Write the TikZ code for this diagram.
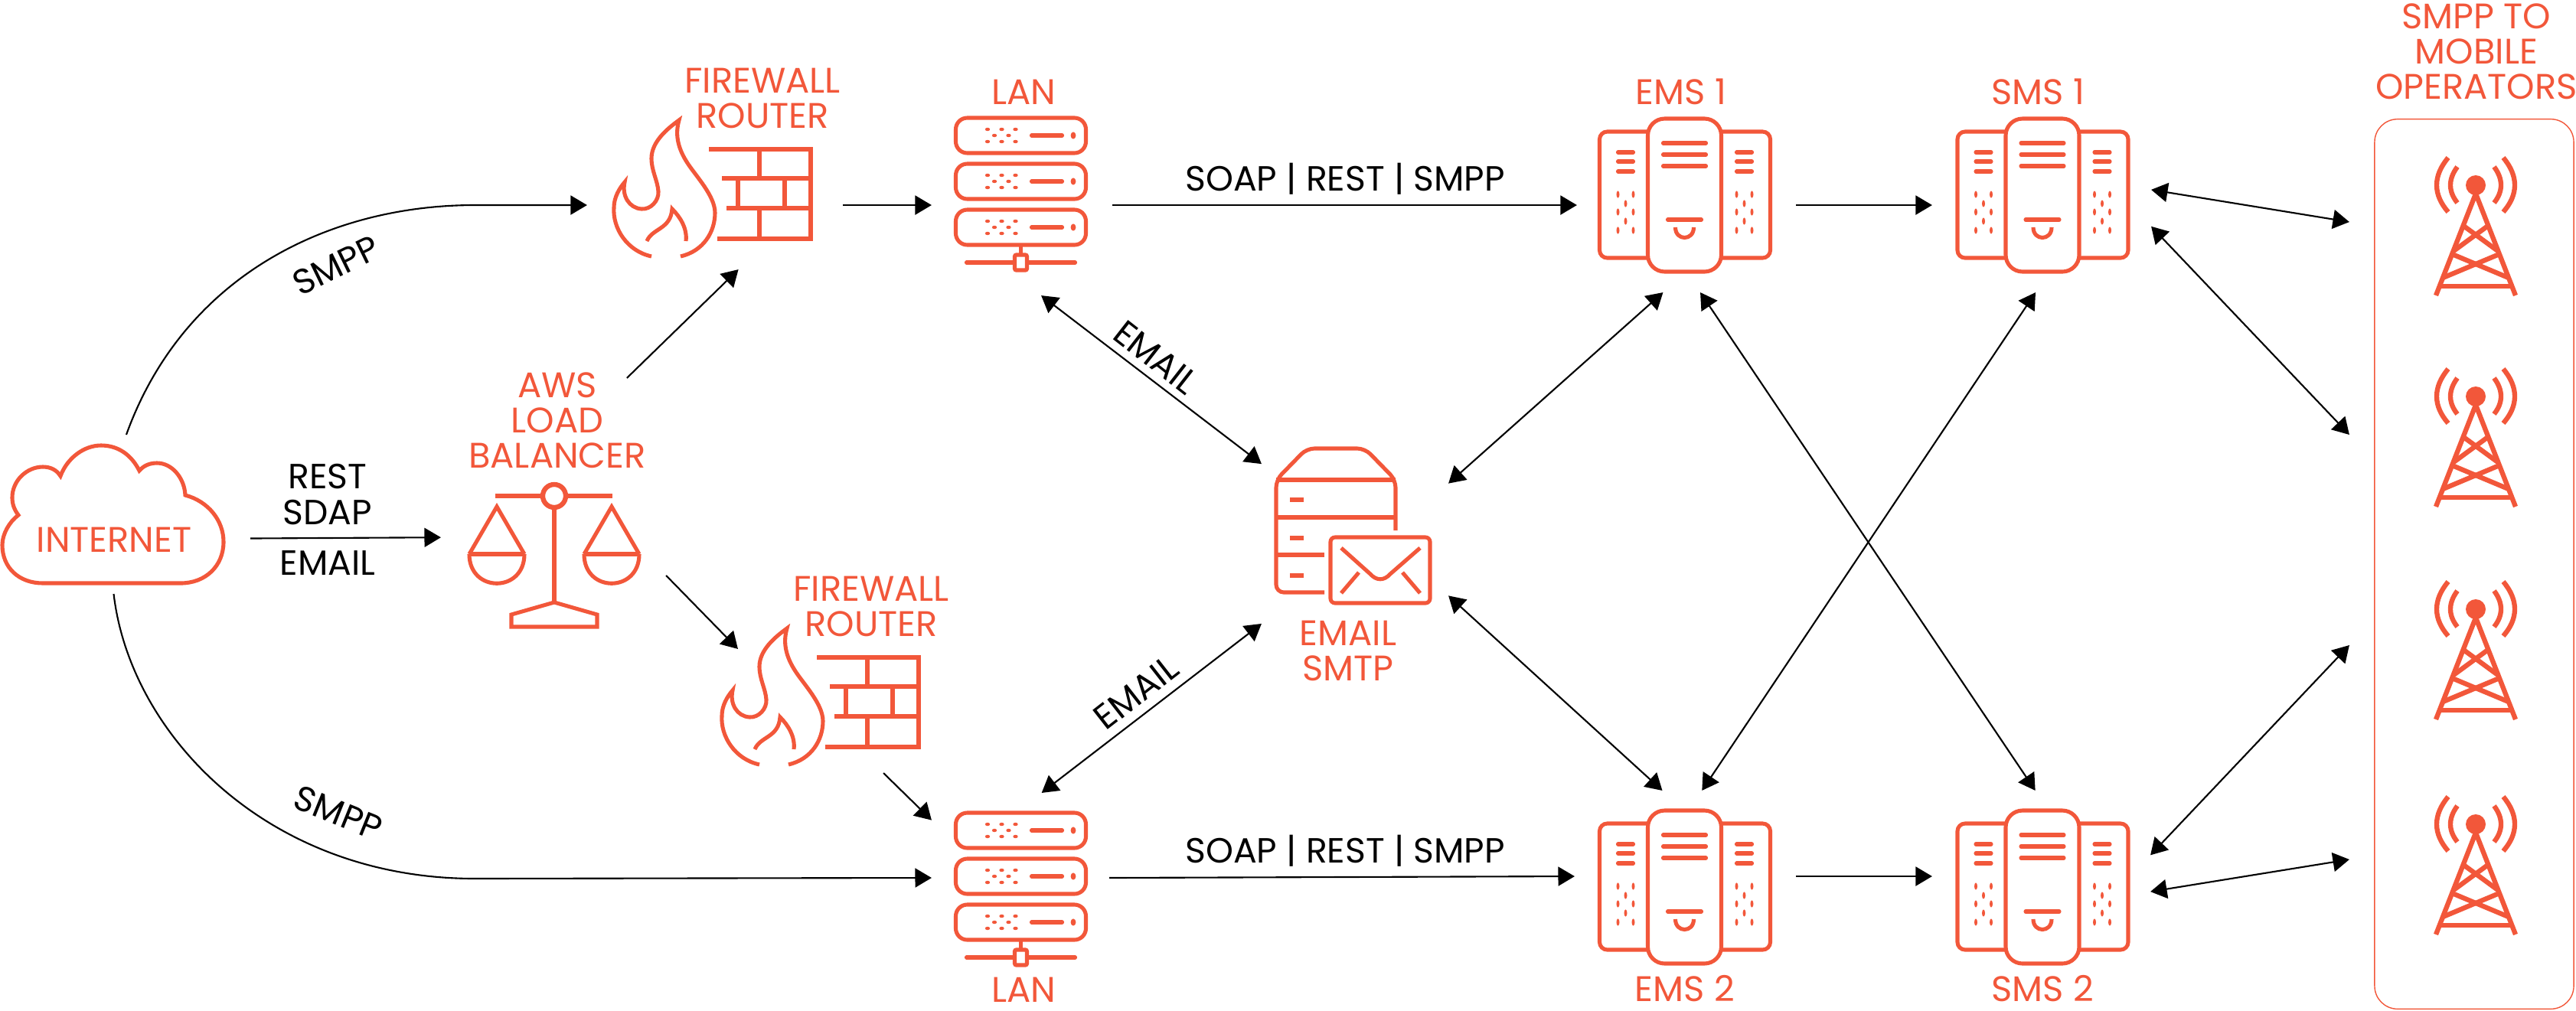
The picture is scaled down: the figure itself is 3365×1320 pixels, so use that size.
\documentclass[tikz,border=0pt]{standalone}
\usepackage{fontspec}
\setmainfont{Poppins}
\usetikzlibrary{arrows.meta}
\definecolor{brandorange}{HTML}{F2573A}
\tikzset{
  >={Triangle[length=6.1pt,width=7.1pt]},
  wire/.style={line width=0.6pt},
  iconline/.style={draw=brandorange, line width=1.45pt},
  iconheavy/.style={draw=brandorange, line width=1.8pt},
  hub/.style={rectangle, inner sep=0pt, outer sep=0pt},
  orangetext/.style={text=brandorange, align=center, inner sep=0pt, font=\fontsize{13.2}{13.1}\selectfont},
  blacktext/.style={text=black, align=center, inner sep=0pt, font=\fontsize{13.0}{13.1}\selectfont},
  lanrack/.pic={
    \foreach \rowy in {-60,0,60} {
      \begin{scope}[shift={(0,\rowy)}]
        \draw[iconline, rounded corners=0.15cm] (-85,-23) rectangle (85,23);
        \foreach \dotx in {-43.5,-25,-7} {
          \fill[brandorange] (\dotx,-8) ellipse [x radius=3.2, y radius=2.2];
          \fill[brandorange] (\dotx,8) ellipse [x radius=3.2, y radius=2.2];
        }
        \foreach \dotx in {-34.5,-16}
          \fill[brandorange] (\dotx,0) ellipse [x radius=3.2, y radius=2.2];
        \draw[iconline, line cap=round] (14,0) -- (54,0);
        \fill[brandorange] (68.5,0) ellipse [x radius=3.4, y radius=4.6];
      \end{scope}
    }
    \draw[iconline] (0,83) -- (0,96);
    \draw[iconline, line cap=round] (-71,106) -- (71,106);
    \draw[iconline, fill=white, rounded corners=0.02cm] (-8,96) rectangle (8,116);
  },
  serverblade/.pic={
    % side panels
    \draw[iconline, rounded corners=0.1cm] (-48,-83) -- (-111,-83) -- (-111,82) -- (-48,82);
    \draw[iconline, rounded corners=0.1cm] (48,-83) -- (112,-83) -- (112,82) -- (48,82);
    \draw[iconline, rounded corners=0.22cm] (-48,-100) rectangle (48,100);
    % front of the middle panel
    \foreach \liney in {-68,-53,-38}
      \draw[iconline, line cap=round] (-28,\liney) -- (28,\liney);
    \draw[iconline, line cap=round] (-22,32) -- (22,32);
    \draw[iconline] (-12,42) .. controls (-12,60) and (12,60) .. (12,42);
    \foreach \sidex in {-77,78} {
      \foreach \liney in {-56,-44,-31}
        \draw[iconline, line cap=round] ({\sidex-10},\liney) -- ({\sidex+10},\liney);
      \foreach \doty in {-1,22,46} {
        \fill[brandorange] ({\sidex-10},\doty) ellipse [x radius=2, y radius=4.6];
        \fill[brandorange] ({\sidex+10},\doty) ellipse [x radius=2, y radius=4.6];
      }
      \foreach \doty in {11,34}
        \fill[brandorange] (\sidex,\doty) ellipse [x radius=2, y radius=4.6];
    }
  },
  radiotower/.pic={
    \fill[brandorange] (0,0) circle [radius=13];
    \draw[iconheavy] (-52,144) -- (0,11) -- (52,144);
    \draw[iconheavy] (-47,132) -- (47,132);
    \draw[iconheavy] (-16,53) -- (29,86);
    \draw[iconheavy] (16,53) -- (-29,86);
    \draw[iconheavy] (-31,90) -- (43,121);
    \draw[iconheavy] (31,90) -- (-43,121);
    \foreach \dir in {-1,1} {
      \draw[iconheavy] ({\dir*24},-24) .. controls ({\dir*36},-8) and ({\dir*36},8) .. ({\dir*24},23);
      \draw[iconheavy] ({\dir*36},-36) .. controls ({\dir*56},-12) and ({\dir*56},12) .. ({\dir*36},35);
    }
  },
  firewall/.pic={
    % flame
    \draw[iconline] (-83,67) .. controls (-115,60) and (-134,30) .. (-132,3)
      .. controls (-132,-10) and (-125,-22) .. (-118,-30)
      .. controls (-122,-12) and (-112,4) .. (-96,5)
      .. controls (-84,6) and (-73,-6) .. (-74,-18)
      .. controls (-75,-32) and (-83,-45) .. (-83,-61)
      .. controls (-83,-83) and (-62,-100) .. (-47,-111)
      .. controls (-53,-90) and (-47,-72) .. (-36,-55)
      .. controls (-25,-38) and (0,-12) .. (0,10)
      .. controls (0,35) and (-15,60) .. (-45,67);
    \draw[iconline] (-89,47) .. controls (-82,30) and (-58,32) .. (-56,5)
      .. controls (-46,15) and (-36,30) .. (-38,47);
    % bricks
    \draw[iconline] (-8,-73) -- (125,-73) -- (125,44) -- (3,44);
    \draw[iconline] (9,-35) -- (125,-35);
    \draw[iconline] (15,4) -- (125,4);
    \draw[iconline] (58,-73) -- (58,-35);
    \draw[iconline] (58,4) -- (58,44);
    \draw[iconline] (30,-35) -- (30,4);
    \draw[iconline] (91,-35) -- (91,4);
  },
  scales/.pic={
    \draw[iconheavy] (-77,0) -- (-15,0);
    \draw[iconheavy] (15,0) -- (76,0);
    \draw[iconheavy] (0,0) circle [radius=15];
    \draw[iconline] (0,17) -- (0,139);
    \draw[iconline] (0,139) -- (56,155) -- (56,171) -- (-56,171) -- (-56,155) -- cycle;
    \foreach \panx in {-75,75} {
      \draw[iconline] ({\panx-36},76) -- (\panx,14) -- ({\panx+36},76);
      \draw[iconline] ({\panx-36},76) -- ({\panx+36},76);
      \draw[iconline] ({\panx-36},76) .. controls ({\panx-36},127) and ({\panx+36},127) .. ({\panx+36},76);
    }
  }
}
\begin{document}
\begin{tikzpicture}[x=0.01cm, y=-0.01cm]
  \useasboundingbox (0,0) rectangle (3365,1320);

  % Hubs
  \node[hub, minimum width=3.24cm, minimum height=2.08cm] (inet) at (165,672) {};
  \node[hub, minimum width=2.94cm, minimum height=3.32cm] (aws) at (723,660) {};
  \node[hub, minimum width=3.34cm, minimum height=1.68cm] (fwA) at (934,268) {};
  \node[hub, minimum width=1.90cm, minimum height=1.62cm] (fwB) at (1059,929) {};
  \node[hub, minimum width=2.36cm, minimum height=2.36cm] (lanA) at (1335,268) {};
  \node[hub, minimum width=2.32cm, minimum height=2.22cm] (lanB) at (1333,1147) {};
  \node[hub, minimum width=2.44cm, minimum height=2.40cm] (smtp) at (1770,705) {};
  \node[hub, minimum width=2.86cm, minimum height=2.28cm] (emsA) at (2203,268) {};
  \node[hub, minimum width=2.89cm, minimum height=2.24cm] (emsB) at (2201.5,1145) {};
  \node[hub, minimum width=2.86cm, minimum height=2.28cm] (smsA) at (2667,268) {};
  \node[hub, minimum width=2.85cm, minimum height=2.24cm] (smsB) at (2666.5,1145) {};
  \node[hub, minimum width=2.94cm, minimum height=1.80cm] (towerA) at (3216,290) {};
  \node[hub, minimum width=2.94cm, minimum height=1.80cm] (towerB) at (3216,568) {};
  \node[hub, minimum width=2.94cm, minimum height=1.80cm] (towerC) at (3216,843) {};
  \node[hub, minimum width=2.94cm, minimum height=1.80cm] (towerD) at (3216,1123) {};

  % Operators panel
  \node[draw=brandorange, line width=0.4pt, rounded corners=0.3cm, inner sep=0pt, minimum width=2.60cm, minimum height=11.62cm] (operators) at (3232,737) {};

  % Icons
  \draw[iconline] (79,622) .. controls (88,598) and (110,582) .. (132,582)
    .. controls (155,582) and (172,595) .. (182,615)
    .. controls (188,608) and (196,605) .. (205,605)
    .. controls (225,605) and (241,625) .. (242,647)
    .. controls (272,655) and (292,680) .. (292,708)
    .. controls (292,740) and (268,762) .. (236,762) -- (56,762)
    .. controls (25,762) and (3,742) .. (3,712)
    .. controls (3,698) and (12,682) .. (24,673)
    .. controls (18,665) and (16,658) .. (16,650)
    .. controls (16,628) and (35,610) .. (56,610)
    .. controls (66,610) and (74,614) .. (79,622) -- cycle;
  \pic at (724,648) {scales};
  \pic at (934,268) {firewall};
  \pic at (1075,932) {firewall};
  \pic at (1333.5,237) {lanrack};
  \pic at (1333.5,1145) {lanrack};
  \pic at (2200.5,255) {serverblade};
  \pic at (2200.5,1159) {serverblade};
  \pic at (2668,255) {serverblade};
  \pic at (2668,1159) {serverblade};
  \pic at (3234,242) {radiotower};
  \pic at (3234,518) {radiotower};
  \pic at (3234,796) {radiotower};
  \pic at (3234,1077) {radiotower};

  % Mail server
  \draw[iconline, rounded corners=0.1cm] (1730,774) -- (1667,774) -- (1667,627) -- (1707,586) -- (1783,586) -- (1823,627) -- (1823,693);
  \draw[iconline] (1667,627) -- (1823,627);
  \draw[iconline] (1667,676) -- (1823,676);
  \draw[iconline] (1667,725) -- (1730,725);
  \foreach \ticky in {653,703,752}
    \draw[iconheavy] (1685,\ticky) -- (1703,\ticky);
  \draw[iconline, rounded corners=0.06cm] (1738,702) rectangle (1868,788);
  \draw[iconline] (1752,716) -- (1790,750) .. controls (1798,759) and (1808,759) .. (1816,750) -- (1855,716);
  \draw[iconline] (1775,748) -- (1752,775);
  \draw[iconline] (1832,748) -- (1855,775);

  % Titles
  \node[orangetext] (inetTitle) at (149,705) {INTERNET};
  \node[orangetext] (awsTitle) at (728,549) {AWS\\LOAD\\BALANCER};
  \node[orangetext] (fwATitle) at (996,128) {FIREWALL\\ROUTER};
  \node[orangetext] (fwBTitle) at (1138,792) {FIREWALL\\ROUTER};
  \node[orangetext] (lanATitle) at (1337,120) {LAN};
  \node[orangetext] (lanBTitle) at (1337,1293) {LAN};
  \node[orangetext] (smtpTitle) at (1761,850) {EMAIL\\SMTP};
  \node[orangetext] (emsATitle) at (2196,120) {EMS 1};
  \node[orangetext] (emsBTitle) at (2201,1292) {EMS 2};
  \node[orangetext] (smsATitle) at (2662,120) {SMS 1};
  \node[orangetext] (smsBTitle) at (2668,1292) {SMS 2};
  \node[orangetext] (operatorsTitle) at (3235,67) {SMPP TO\\MOBILE\\OPERATORS};

  % Wires
  \draw[->, wire] (inet.north) .. controls (240,360) and (430,268) .. (620,268) -- (fwA.west);
  \draw[->, wire] (inet.-99.8) .. controls (170,960) and (350,1148) .. (620,1148) -- (lanB.west);
  \draw[->, wire] (inet.-11.2) -- (aws.196.7);
  \draw[->, wire] (aws.60) -- (fwA.-70.3);
  \draw[->, wire] (aws.-32.9) -- (fwB.north west);
  \draw[->, wire] (fwA.east) -- (lanA.west);
  \draw[->, wire] (fwB.south east) -- (lanB.147.8);
  \draw[->, wire] (lanA.east) -- (emsA.west);
  \draw[->, wire] (lanB.east) -- (emsB.west);
  \draw[->, wire] (emsA.east) -- (smsA.west);
  \draw[->, wire] (emsB.east) -- (smsB.west);

  % Two way wires
  \draw[<->, wire] (lanA.-78.5) -- (smtp.141.5);
  \draw[<->, wire] (lanB.76.8) -- (smtp.-138.5);
  \draw[<->, wire] (smtp.31.2) -- (emsA.-105.7);
  \draw[<->, wire] (smtp.-31.6) -- (emsB.105.7);
  \draw[<->, wire] (emsA.-81) -- (smsB.94.3);
  \draw[<->, wire] (emsB.79.6) -- (smsA.-94.5);
  \draw[<->, wire] (smsA.8.35) -- (towerA.west);
  \draw[<->, wire] (smsA.-11.85) -- (towerB.west);
  \draw[<->, wire] (smsB.11.5) -- (towerC.west);
  \draw[<->, wire] (smsB.-8.8) -- (towerD.west);

  % Wire labels
  \node[blacktext] (restLabel) at (428,646) {REST\\SDAP};
  \node[blacktext] (emailLabel) at (428,736) {EMAIL};
  \node[blacktext, rotate=26] (smppUp) at (439,347) {SMPP};
  \node[blacktext, rotate=-22] (smppDown) at (442,1062) {SMPP};
  \node[blacktext, rotate=-38] (emailUp) at (1510,467) {EMAIL};
  \node[blacktext, rotate=38] (emailDown) at (1484,905) {EMAIL};
  \node[blacktext] (soapUp) at (1757,234) {SOAP | REST | SMPP};
  \node[blacktext] (soapDown) at (1757,1112) {SOAP | REST | SMPP};
\end{tikzpicture}
\end{document}
